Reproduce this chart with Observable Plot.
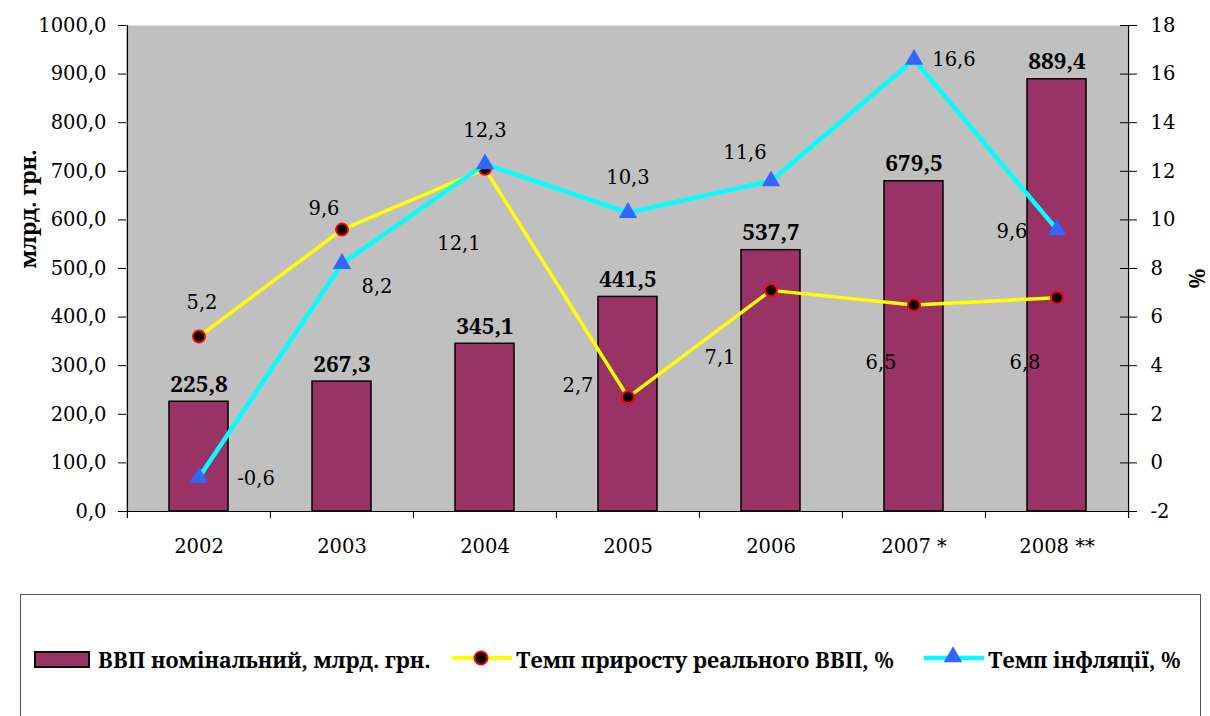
<!DOCTYPE html>
<html>
<head>
<meta charset="utf-8">
<script src="https://cdn.jsdelivr.net/npm/d3@7"></script>
<script src="https://cdn.jsdelivr.net/npm/@observablehq/plot@0.6"></script>
<style>
  html, body { margin: 0; padding: 0; background: #fff; }
  body { width: 1210px; height: 716px; position: relative; overflow: hidden; font-family: 'Noto Serif', 'Liberation Serif', serif; }
  #legend { position: absolute; left: 20px; top: 594px; width: 1181px; height: 140px; border: 1.5px solid #555; box-sizing: border-box; }
  .lt { position: absolute; top: 64px; transform: translateY(-50%); font-family: 'Noto Serif', 'Liberation Serif', serif; font-weight: bold; font-size: 21.6px; white-space: nowrap; color: #000; }
  .sw { position: absolute; }
</style>
</head>
<body>
<div id="chart"></div>
<div id="legend">
  <svg class="sw" style="left:13px;top:56px" width="57" height="18"><rect x="1" y="1" width="54" height="15" fill="#993366" stroke="#000" stroke-width="2"/></svg>
  <div class="lt" id="l0" style="left:77px"></div>
  <svg class="sw" style="left:430px;top:48px" width="62" height="30"><line x1="1" y1="15" x2="61" y2="15" stroke="#FFFF00" stroke-width="4"/><circle cx="30" cy="15" r="6.5" fill="#000" stroke="#FF0000" stroke-width="2"/></svg>
  <div class="lt" id="l1" style="left:495px"></div>
  <svg class="sw" style="left:902px;top:48px" width="62" height="30"><line x1="1" y1="15" x2="61" y2="15" stroke="#00FFFF" stroke-width="4.5"/><path id="tri" fill="#3366FF" transform="translate(30,14)"/></svg>
  <div class="lt" id="l2" style="left:967px"></div>
</div>
<script>
// ---- data ----
const years = ["2002", "2003", "2004", "2005", "2006", "2007 *", "2008 **"];
const gdp = [225.8, 267.3, 345.1, 441.5, 537.7, 679.5, 889.4];
const growth = [5.2, 9.6, 12.1, 2.7, 7.1, 6.5, 6.8];
const inflation = [-0.6, 8.2, 12.3, 10.3, 11.6, 16.6, 9.6];
const leftTicks = [0, 100, 200, 300, 400, 500, 600, 700, 800, 900, 1000];
const pctTicks = [-2, 0, 2, 4, 6, 8, 10, 12, 14, 16, 18];
const legendLabels = ["ВВП номінальний, млрд. грн.", "Темп приросту реального ВВП, %", "Темп інфляції, %"];
const yTitle = "млрд. грн.";
const y2Title = "%";

// ---- label offsets (style) ----
const growthOff = [[3, -34], [-18, -21], [-26, 75], [-50, -12], [-51, 67], [-33, 58], [-32, 65]];
const inflOff = [[57, 1], [35, 23], [0, -33], [0, -35], [-26, -28], [40, 0], [-45, 2]];

// secondary axis mapping: % (-2..18) onto the left scale (0..1000)
const toY = p => (p + 2) * 50;
const fmt1 = d => d.toFixed(1).replace(".", ",");
const fmtP = d => String(d).replace(".", ",");

const FONT = "'DejaVu Serif', serif";               // regular text
const FONTB = "'Noto Serif', 'Liberation Serif', serif"; // bold text
const FS = 19.5;
const W = 1210, H = 580, ML = 126, MR = 82, MT = 25, MB = 69;
const bw = (W - ML - MR) / years.length;

const rows = years.map((year, i) => ({year, gdp: gdp[i], growth: growth[i], inflation: inflation[i]}));

const growthLabels = rows.map((r, i) => Plot.text([r], {
  x: "year", y: d => toY(d.growth), text: d => fmtP(d.growth),
  dx: growthOff[i][0], dy: growthOff[i][1], fill: "#000", fontSize: FS, fontFamily: FONT
}));
const inflLabels = rows.map((r, i) => Plot.text([r], {
  x: "year", y: d => toY(d.inflation), text: d => fmtP(d.inflation),
  dx: inflOff[i][0], dy: inflOff[i][1], fill: "#000", fontSize: FS, fontFamily: FONT
}));

const chart = Plot.plot({
  width: W, height: H,
  marginLeft: ML, marginRight: MR, marginTop: MT, marginBottom: MB,
  style: {fontFamily: FONT, fontSize: FS + "px", color: "#000", background: "transparent", overflow: "visible"},
  x: {domain: years, padding: 0, axis: null},
  y: {domain: [0, 1000], axis: null},
  marks: [
    Plot.frame({fill: "#C0C0C0", stroke: null}),
    Plot.barY(rows, {x: "year", y: "gdp", fill: "#993366", stroke: "#000", strokeWidth: 1.5, insetLeft: 42, insetRight: 42}),
    Plot.text(rows, {x: "year", y: "gdp", text: d => fmt1(d.gdp), dy: -17, fontWeight: "bold", fontSize: 22.5, fill: "#000", fontFamily: FONTB}),
    // axis lines & category boundary ticks
    Plot.ruleY([0], {stroke: "#000", strokeWidth: 1}),
    Plot.ruleX(years, {x: d => d, y1: 0, y2: 0, insetBottom: -7, dx: -bw / 2, stroke: "#000"}),
    Plot.ruleX([years[0]], {x: d => d, dx: -bw / 2, insetBottom: -7, stroke: "#000", strokeWidth: 1.2}),
    Plot.ruleX([years[years.length - 1]], {x: d => d, dx: bw / 2, insetBottom: -7, stroke: "#000", strokeWidth: 1.2}),
    // inner halves of right ticks
    Plot.tickY(pctTicks.map(toY), {y: d => d, insetLeft: W - ML - MR - 8, stroke: "#000"}),
    Plot.axisY(leftTicks, {anchor: "left", tickFormat: fmt1, tickSize: 8, tickPadding: 12, label: null, fontSize: FS, fontFamily: FONT}),
    Plot.axisY(pctTicks.map(toY), {anchor: "right", tickFormat: v => String(v / 50 - 2), tickSize: 8, tickPadding: 14, label: null, fontSize: FS, fontFamily: FONT}),
    Plot.axisX({tickSize: 0, tickPadding: 28, label: null, fontSize: FS, fontFamily: FONT}),
    // growth series
    Plot.line(rows, {x: "year", y: d => toY(d.growth), stroke: "#FFFF00", strokeWidth: 3.5}),
    Plot.dot(rows, {x: "year", y: d => toY(d.growth), r: 6, fill: "#000", stroke: "#FF0000", strokeWidth: 2}),
    ...growthLabels,
    // inflation series
    Plot.line(rows, {x: "year", y: d => toY(d.inflation), stroke: "#00FFFF", strokeWidth: 4.5}),
    Plot.dot(rows, {x: "year", y: d => toY(d.inflation), r: 6.8, symbol: "triangle", fill: "#3366FF", stroke: null}),
    ...inflLabels,
    // axis titles
    Plot.text([yTitle], {text: d => d, frameAnchor: "left", rotate: -90, dx: -98, fontWeight: "bold", fontSize: 22, fill: "#000", fontFamily: FONTB}),
    Plot.text([y2Title], {text: d => d, frameAnchor: "right", rotate: -90, dx: 69, fontWeight: "bold", fontSize: 22, fill: "#000", fontFamily: FONTB})
  ]
});
document.getElementById("chart").appendChild(chart);

legendLabels.forEach((t, i) => { document.getElementById("l" + i).textContent = t; });
document.getElementById("tri").setAttribute("d", d3.symbol(d3.symbolTriangle, 150)());
</script>
</body>
</html>
